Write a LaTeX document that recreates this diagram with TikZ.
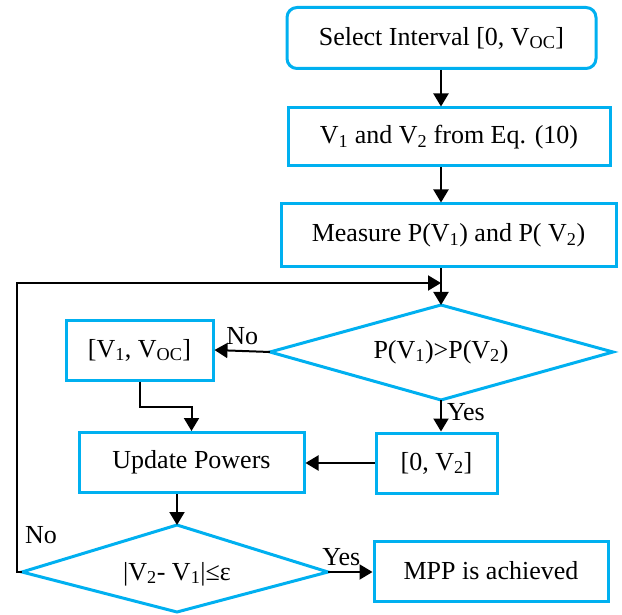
\documentclass[tikz,border=0pt]{standalone}
\usepackage{fontspec}
\setmainfont{Liberation Serif}
\usetikzlibrary{arrows.meta,shapes.geometric}
\definecolor{cy}{HTML}{00B0F0}
\tikzset{
  box/.style={draw=cy, line width=3pt, minimum width=#1, minimum height=60pt, inner sep=0pt, font=\fontsize{26}{31}\selectfont},
  arr/.style={line width=2pt, -{Triangle[length=13pt,width=15pt]}},
  lbl/.style={font=\fontsize{26}{31}\selectfont, inner sep=0pt}
}
\begin{document}
\begin{tikzpicture}[x=1pt,y=-1pt]
\useasboundingbox (0,0) rectangle (622,615);
\node[box=309pt, rounded corners=10pt, minimum height=61pt] (sel) at (441.5,38) {Select Interval [0, V\textsubscript{OC}]};
\node[box=322pt, minimum height=58pt] (v12) at (449,137) {V\textsubscript{1} and V\textsubscript{2} from Eq. (10)};
\node[box=335pt, minimum height=63pt] (mea) at (448.5,235.5) {Measure P(V\textsubscript{1}) and P( V\textsubscript{2})};
\path[draw=cy, line width=3pt] (441,305) coordinate (d1t) -- (613,352) coordinate (d1r) -- (441,400) coordinate (d1b) -- (270,352) coordinate (d1l) -- cycle;
\node[lbl] (d1) at (441,352) {P(V\textsubscript{1})>P(V\textsubscript{2})};
\node[box=147pt] (lft) at (139.5,350) {[V\textsubscript{1}, V\textsubscript{OC}]};
\node[box=121pt] (zv2) at (436.5,463) {[0, V\textsubscript{2}]};
\node[box=225pt] (upd) at (191.5,462.5) {Update Powers};
\path[draw=cy, line width=3pt] (177,525) coordinate (d2t) -- (328,572) coordinate (d2r) -- (177,612) coordinate (d2b) -- (22,572) coordinate (d2l) -- cycle;
\node[lbl] (d2) at (177,574) {|V\textsubscript{2}- V\textsubscript{1}|≤ε};
\node[box=234pt] (mpp) at (491,571) {MPP is achieved};
\coordinate (top) at (441,283);
\draw[arr] (sel.south -| 441,0) -- (v12.north -| 441,0);
\draw[arr] (v12.south -| 441,0) -- (mea.north -| 441,0);
\draw[arr] (mea.south -| 441,0) -- (d1t);
\draw[arr] (d1l) -- (lft.east) node[lbl, pos=0.5, above=5pt] {No};
\draw[arr] (d1b) -- (zv2.north -| d1b) node[lbl, pos=0.4, right=5pt] {Yes};
\draw[arr] (zv2.west) -- (upd.east |- zv2.west);
\draw[arr] (lft.south) -- ++(0,25) -| (upd.north);
\draw[arr] (upd.south -| d2t) -- (d2t);
\draw[arr] (d2r) -- (mpp.west |- d2r) node[lbl, pos=0.3, above=5pt] {Yes};
\draw[arr] (d2l) -- (17,572) -- (17,283) -- (top);
\node[lbl] (no2) at (41,535) {No};
\end{tikzpicture}
\end{document}
